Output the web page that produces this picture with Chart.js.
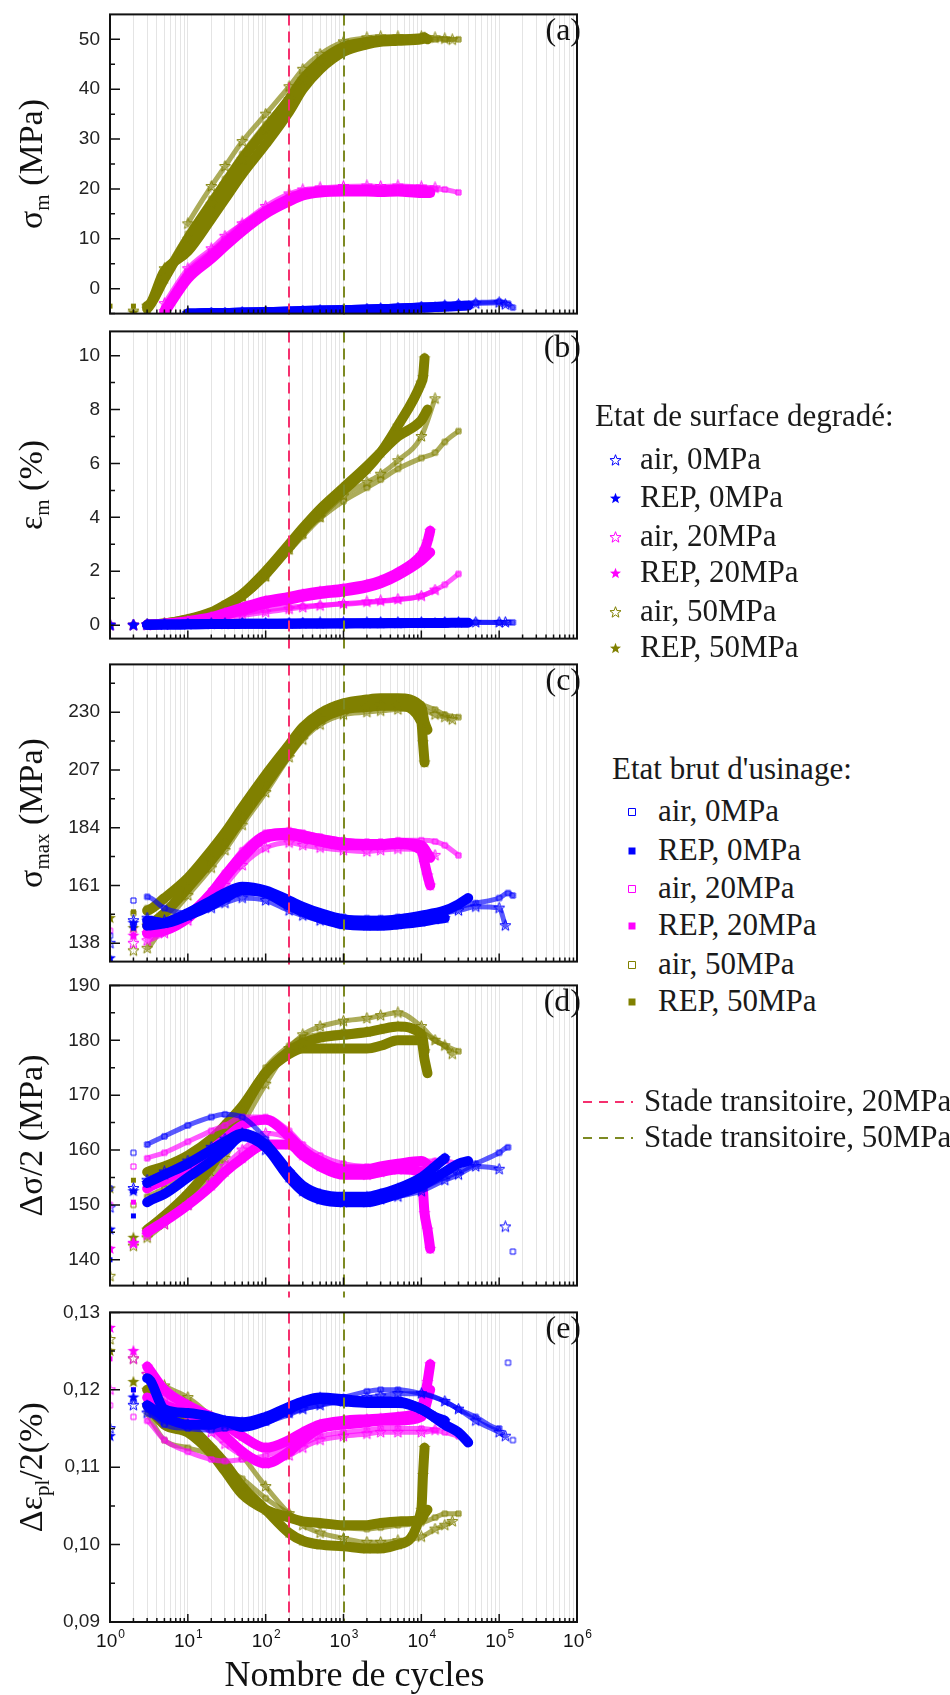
<!DOCTYPE html>
<html>
<head>
<meta charset="utf-8">
<script src="https://cdn.jsdelivr.net/npm/chart.js@4.4.1/dist/chart.umd.min.js"></script>
<style>
  html, body { margin: 0; padding: 0; background: #fff; }
  #page { position: relative; width: 950px; height: 1695px; overflow: hidden; }
  #page canvas.panel { position: absolute; left: 0; }
  .leg { position: absolute; font-family: 'Liberation Serif', 'Times New Roman', serif; font-size: 31px; line-height: 1; color: #1a1a1a; white-space: nowrap; }
  .mk { position: absolute; }
</style>
</head>
<body>
<div id="page"></div>
<script>
// cycles recorded for each specimen (s = degraded surface, b = as-machined)
const cycSAir0  = [1,2,3,5,10,20,30,50,100,200,300,500,1000,2000,3000,5000,10000,20000,30000,50000,100000,120000]
const cycSRep0  = [1,2,3,5,10,20,30,50,100,200,300,500,1000,2000,3000,5000,10000,15000,20000]
const cycSAir20 = [1,2,3,5,10,20,30,50,100,200,300,500,1000,2000,3000,5000,10000,15000]
const cycSRep20 = [1,2,3,5,10,20,30,50,100,200,300,500,1000,2000,3000,5000,10000,11000,12000,13000]
const cycSAir50 = [1,2,3,5,10,20,30,50,100,200,300,500,1000,2000,3000,5000,10000,15000,20000,25000]
const cycSRep50 = [1,2,3,5,10,20,30,50,100,200,300,500,1000,2000,3000,5000,10000,10500,11000]
const cycBAir0  = [1,2,3,5,10,20,30,50,100,200,300,500,1000,2000,3000,5000,10000,20000,30000,50000,100000,130000,150000]
const cycBRep0  = [1,2,3,5,10,20,30,50,100,200,300,500,1000,2000,3000,5000,10000,20000,30000,40000]
const cycBAir20 = [1,2,3,5,10,20,30,50,100,200,300,500,1000,2000,3000,5000,10000,15000,20000,30000]
const cycBRep20 = [1,2,3,5,10,20,30,50,100,200,300,500,1000,2000,3000,5000,10000,13000]
const cycBAir50 = [1,2,3,5,10,20,30,50,100,200,300,500,1000,2000,3000,5000,10000,15000,20000,30000]
const cycBRep50 = [1,2,3,5,10,20,30,50,100,200,300,500,1000,2000,3000,5000,10000,11000,12000]

// (a) mean stress (MPa)
const aSAir0  = [null,null,null,null,-5,-4.9,-4.9,-4.8,-4.7,-4.6,-4.5,-4.4,-4.3,-4.1,-4,-3.9,-3.7,-3.4,-3.2,-3,-2.8,-3.2]
const aSRep0  = [null,null,null,null,-5,-4.9,-4.9,-4.8,-4.7,-4.6,-4.5,-4.4,-4.3,-4.2,-4.1,-4,-3.8,-3.7,-3.6]
const aSAir20 = [null,null,null,-3,4,8,10.5,13,16.5,19,19.8,20.2,20.5,20.6,20.5,20.6,20.4,20.2]
const aSRep20 = [null,null,null,-4.5,2.5,6.5,9,12,15.5,18,19,19.5,19.8,19.8,19.7,19.9,19.8,19.6,19.5,19.4]
const aSAir50 = [null,-4.5,-3.5,4,13,20.5,24.5,29.5,35,40.5,44,47,49.5,50.3,50.5,50.5,50.5,50.3,50.1,49.9]
const aSRep50 = [null,-4.8,-4,2,10,17,21,26,32,38,42,45.5,48.5,49.5,49.8,50,50.2,50.3,50.4]
const aBAir0  = [null,null,null,null,-5,-4.9,-4.8,-4.8,-4.7,-4.6,-4.5,-4.4,-4.3,-4.1,-4,-3.8,-3.6,-3.3,-3,-2.8,-2.6,-3,-3.8]
const aBRep0  = [null,null,null,null,-5,-4.9,-4.9,-4.8,-4.7,-4.6,-4.5,-4.4,-4.3,-4.2,-4.1,-4,-3.8,-3.6,-3.5,-3.4]
const aBAir20 = [null,null,null,-4,3.5,7.5,10,13,16,18.5,19.5,20,20.2,20.3,20.1,20.2,20,20,19.9,19.3]
const aBRep20 = [null,null,null,-4.8,2,6,8.5,11.5,15,17.5,18.7,19.3,19.5,19.5,19.4,19.5,19.2,19.2]
const aBAir50 = [null,null,-4.5,3,11,18,22,27,33,38.5,42,45.5,48.5,49.5,49.8,50,50.1,50,50,50]
const aBRep50 = [-3.5,-3.5,-3.5,3.5,7.5,14,18,23,29,35.5,40,44,47.5,49,49.5,49.7,50,50.2,50]

// (b) mean strain (%)
const bSAir0  = [0,0,0.02,0.03,0.04,0.05,0.05,0.06,0.06,0.07,0.07,0.08,0.08,0.08,0.09,0.09,0.09,0.1,0.1,0.1,0.1,0.1]
const bSRep0  = [0,0,0.01,0.02,0.03,0.04,0.04,0.05,0.05,0.05,0.06,0.06,0.06,0.07,0.07,0.07,0.08,0.08,0.08]
const bSAir20 = [0,0,0,0.02,0.08,0.18,0.26,0.36,0.48,0.6,0.66,0.72,0.8,0.86,0.9,0.96,1.08,1.3]
const bSRep20 = [0,0,0.02,0.05,0.15,0.3,0.45,0.65,0.9,1.05,1.15,1.25,1.35,1.5,1.65,1.95,2.6,2.8,3.1,3.5]
const bSAir50 = [0,0,0.02,0.05,0.18,0.42,0.65,1.05,1.8,2.8,3.4,4.0,4.8,5.3,5.6,6.1,7.0,8.4,null,null]
const bSRep50 = [0,0,0.02,0.06,0.2,0.45,0.7,1.1,1.9,2.9,3.5,4.2,5.0,5.8,6.4,7.4,9.0,9.2,9.9]
const bBAir0  = [null,0,0.02,0.03,0.05,0.06,0.06,0.07,0.08,0.08,0.09,0.09,0.1,0.1,0.1,0.11,0.11,0.11,0.11,0.11,0.1,0.1,0.1]
const bBRep0  = [null,0,0.01,0.02,0.03,0.04,0.04,0.05,0.05,0.06,0.06,0.06,0.07,0.07,0.07,0.08,0.08,0.08,0.09,0.09]
const bBAir20 = [0,0,0,0.02,0.1,0.2,0.3,0.42,0.56,0.66,0.7,0.74,0.78,0.84,0.88,0.94,1.08,1.3,1.5,1.9]
const bBRep20 = [0,0,0.01,0.05,0.12,0.25,0.38,0.55,0.8,0.95,1.05,1.15,1.25,1.4,1.55,1.85,2.4,2.7]
const bBAir50 = [0,0,0.02,0.05,0.17,0.4,0.62,1.0,1.75,2.75,3.3,3.95,4.6,5.1,5.4,5.8,6.2,6.4,6.8,7.2]
const bBRep50 = [0,0,0.02,0.06,0.22,0.48,0.75,1.15,2.0,3.0,3.6,4.3,5.1,5.9,6.4,7.0,7.6,7.8,8.0]

// (c) maximum stress (MPa)
const cSAir0  = [138,147,148,147,149,152,154,156,155,151,149,147,146,146,146.5,147,148,150,151,152.5,152,145]
const cSRep0  = [132,146,147,146,149,153,156,159,158,153,150.5,148,145.5,145,145,145.5,146.5,147.5,148]
const cSAir20 = [null,138,139,142,147,155,161,169,176,178,177,176,175,174.5,175,175.5,175,173]
const cSRep20 = [null,141,142,143,148,157,164,172,180,181,180,178.5,177,177,177,177.5,175,170,165,161]
const cSAir50 = [null,135,136,146,157,168,175,185,198,212,219,225,229,230,230.5,231,231,229,228,227]
const cSRep50 = [148,144,145,150,160,171,178,188,201,214,221,227,231,232,232.5,232.5,226,218,210]
const cBAir0  = [141,155,156.5,152,150,153,156,158.5,157,154,152,150,148.5,148,148,148.5,149.5,151,152.5,154,156,158,157]
const cBRep0  = [null,144,145,146,150,155,158,160.5,159,155,152.5,150,147.5,147,147,147.5,149,151,153.5,156]
const cBAir20 = [143,143,143,144,150,159,166,175,182,183,182,180.5,179,178.5,178.5,179,179,178.5,177,173]
const cBRep20 = [null,141,142,144,149,158,165,173,181,182,181,179.5,178,177.5,177.5,178,177,172]
const cBAir50 = [null,150,152,155,162,173,180,190,203,216,222,228,232,233.5,234,234,233,231,229,228]
const cBRep50 = [null,150.5,151,156,164,175,182,192,205,217,224,229.5,233.5,235,235.5,235.5,232,226,223]

// (d) stress amplitude (MPa)
const dSAir0  = [149.5,153,154.5,156,158,160.5,162,163,160,155,152.5,151,150.5,150.5,151,151.5,152.5,154.5,155.5,157,156.5,146]
const dSRep0  = [145.5,152.5,154,155.5,157.5,160,161.5,163,161,156,153.5,152,151.5,151.5,152,153,155,157,158.5]
const dSAir20 = [null,143,144.5,146.5,150,154,157,160,163,162,159.5,157.5,156,155.5,156,156.5,157,157.5]
const dSRep20 = [142,143,145,147,150,153.5,156,158.5,161,161,159,157,155.5,155.5,156,156.5,156,148.5,145.5,142]
const dSAir50 = [137,142.5,144,146.5,150,155,158.5,164.5,172,178.5,181,182.5,183.5,184,184.5,185,182.5,180,179,177.5]
const dSRep50 = [153,144,145.5,148,152,157,161,167,174,178,179.5,180.5,181,181.5,182,182.5,181,180,178]
const dBAir0  = [153,159.5,161,162.5,164.5,166,166.5,166,162,156,153.5,152,151.5,151,151.5,152,153,155,156,157.5,159.5,160.5,141.5]
const dBRep0  = [140,148,150.5,152,155,158,160,162.5,160.5,155,152.5,151,150.5,150.5,151,152,153.5,156,157.5,158]
const dBAir20 = [150,157,158.5,159.5,161.5,163.5,164.5,166,166,163.5,161,159,157.5,157,157,157.5,158,158,158,157.5]
const dBRep20 = [142,150.5,153,154.5,157,160,162,164.5,165.5,162.5,160,158,156.5,156.5,157,157.5,158,157]
const dBAir50 = [null,150,151.5,153,156,160,163,168,175,179,180.5,181,181.5,181.5,182,182.5,181.5,180,179,178]
const dBRep50 = [null,154.5,156,157,159,162,164.5,168,174,177.5,178.5,178.5,178.5,178.5,179,180,180,176.5,174]

// (e) plastic strain amplitude (%)
const eSAir0  = [0.115,0.118,0.117,0.116,0.1155,0.1155,0.1155,0.1155,0.116,0.117,0.1175,0.118,0.1185,0.119,0.1192,0.1195,0.1195,0.1185,0.1175,0.116,0.1145,0.114]
const eSRep0  = [0.114,0.119,0.118,0.1165,0.1155,0.1155,0.116,0.1158,0.1165,0.1178,0.1185,0.119,0.1188,0.1185,0.1185,0.1185,0.1175,0.1165,0.116]
const eSAir20 = [0.12,0.124,0.122,0.119,0.1165,0.1145,0.113,0.1115,0.1105,0.1115,0.1125,0.1135,0.114,0.1143,0.1145,0.1145,0.1145,0.1148]
const eSRep20 = [0.128,0.125,0.123,0.12,0.118,0.1165,0.1155,0.114,0.1125,0.1135,0.1145,0.1155,0.116,0.1162,0.1163,0.1165,0.1175,0.119,0.121,0.1233]
const eSAir50 = [0.1265,0.124,0.122,0.1205,0.119,0.1165,0.1145,0.1115,0.1075,0.104,0.1025,0.1015,0.1008,0.1003,0.1003,0.1005,0.101,0.102,0.1025,0.103]
const eSRep50 = [0.125,0.121,0.12,0.118,0.1155,0.1125,0.1105,0.1075,0.1045,0.1015,0.1005,0.1,0.0998,0.0995,0.0995,0.1,0.1045,0.109,0.1125]
const eBAir0  = [null,0.1185,0.1175,0.1155,0.115,0.1148,0.115,0.1152,0.1158,0.1168,0.1175,0.118,0.119,0.1198,0.12,0.12,0.1195,0.1185,0.1175,0.1165,0.115,0.1235,0.1135]
const eBRep0  = [null,0.12,0.1215,0.1175,0.117,0.1165,0.116,0.1152,0.116,0.1175,0.1183,0.1188,0.1185,0.1183,0.1183,0.1183,0.1175,0.1155,0.1145,0.1132]
const eBAir20 = [0.118,0.1165,0.116,0.1135,0.112,0.111,0.1108,0.111,0.1115,0.1125,0.113,0.114,0.1145,0.1148,0.115,0.115,0.115,0.1148,0.1145,0.114]
const eBRep20 = [0.124,0.12,0.119,0.118,0.117,0.1155,0.114,0.112,0.1105,0.112,0.1135,0.115,0.1155,0.1158,0.116,0.116,0.1165,0.12]
const eBAir50 = [null,null,0.117,0.1135,0.1125,0.1115,0.11,0.1085,0.106,0.104,0.103,0.1025,0.1022,0.102,0.1022,0.1025,0.1028,0.1035,0.104,0.104]
const eBRep50 = [null,null,0.118,0.1155,0.1145,0.1118,0.1095,0.1065,0.1045,0.1035,0.103,0.1028,0.1025,0.1025,0.1028,0.103,0.1032,0.104,0.1045]

// axis ticks
const xDecades = [1, 10, 100, 1000, 10000, 100000, 1000000]
const xMinorSteps = [2, 3, 4, 5, 6, 7, 8, 9]
const yMajorA = [0, 10, 20, 30, 40, 50]
const yMinorA = [-5, 5, 15, 25, 35, 45]
const yMajorB = [0, 2, 4, 6, 8, 10]
const yMinorB = [1, 3, 5, 7, 9]
const yMajorC = [138, 161, 184, 207, 230]
const yMinorC = [149.5, 172.5, 195.5, 218.5, 241.5]
const yMajorD = [140, 150, 160, 170, 180, 190]
const yMinorD = [145, 155, 165, 175, 185]
const yMajorE = [0.09, 0.10, 0.11, 0.12, 0.13]
const yMinorE = [0.095, 0.105, 0.115, 0.125]

// transition stages
const transitionCycles = [200, 1000]
const transitionLabels = ['Stade transitoire, 20MPa', 'Stade transitoire, 50MPa']
const legendLabels = ['air, 0MPa', 'REP, 0MPa', 'air, 20MPa', 'REP, 20MPa', 'air, 50MPa', 'REP, 50MPa']
const xTitle = 'Nombre de cycles'

const BLUE = '#0000ff', MAGENTA = '#ff00ff', OLIVE = '#808000'
const transitionColors = ['#f5306e', '#7d8a22']

const xGridValues = []
xDecades.slice(0, -1).forEach(d => { xGridValues.push(d); xMinorSteps.forEach(m => xGridValues.push(d * m)) })
xGridValues.push(1000000)

function rgba(hex, a) {
  const n = parseInt(hex.slice(1), 16)
  return `rgba(${(n >> 16) & 255},${(n >> 8) & 255},${n & 255},${a})`
}

function markerCanvas(shape, color, filled, size) {
  const c = document.createElement('canvas')
  c.width = c.height = size
  const g = c.getContext('2d')
  const m = size / 2
  g.beginPath()
  if (shape === 'star') {
    const R = m - 0.7, r = R * 0.42
    for (let k = 0; k < 10; k++) {
      const ang = -Math.PI / 2 + k * Math.PI / 5
      const rad = k % 2 ? r : R
      g.lineTo(m + rad * Math.cos(ang), m + rad * Math.sin(ang))
    }
    g.closePath()
  } else {
    const h = Math.floor(size / 2) - 1
    g.rect(m - h + 0.5, m - h + 0.5, 2 * h - 1, 2 * h - 1)
  }
  if (filled) { g.fillStyle = color; g.fill() } else { g.lineWidth = 1; g.strokeStyle = color; g.stroke() }
  return c
}

// draw order: first entry ends up on top
const seriesDefs = [
  { key: 'sRep0',  cycles: cycSRep0,  color: BLUE,    shape: 'star',   filled: true },
  { key: 'bRep0',  cycles: cycBRep0,  color: BLUE,    shape: 'square', filled: true },
  { key: 'sAir0',  cycles: cycSAir0,  color: BLUE,    shape: 'star',   filled: false },
  { key: 'bAir0',  cycles: cycBAir0,  color: BLUE,    shape: 'square', filled: false },
  { key: 'sRep20', cycles: cycSRep20, color: MAGENTA, shape: 'star',   filled: true },
  { key: 'bRep20', cycles: cycBRep20, color: MAGENTA, shape: 'square', filled: true },
  { key: 'sAir20', cycles: cycSAir20, color: MAGENTA, shape: 'star',   filled: false },
  { key: 'bAir20', cycles: cycBAir20, color: MAGENTA, shape: 'square', filled: false },
  { key: 'sRep50', cycles: cycSRep50, color: OLIVE,   shape: 'star',   filled: true },
  { key: 'bRep50', cycles: cycBRep50, color: OLIVE,   shape: 'square', filled: true },
  { key: 'sAir50', cycles: cycSAir50, color: OLIVE,   shape: 'star',   filled: false },
  { key: 'bAir50', cycles: cycBAir50, color: OLIVE,   shape: 'square', filled: false },
]

const panels = [
  { tag: '(a)', top: 7, bottom: 321, gapBelow: 3, min: -5, max: 55, major: yMajorA, minor: yMinorA,
    title: [['σ'], ['m', true], [' (MPa)']],
    values: { sAir0: aSAir0, sRep0: aSRep0, sAir20: aSAir20, sRep20: aSRep20, sAir50: aSAir50, sRep50: aSRep50,
              bAir0: aBAir0, bRep0: aBRep0, bAir20: aBAir20, bRep20: aBRep20, bAir50: aBAir50, bRep50: aBRep50 } },
  { tag: '(b)', top: 324, bottom: 646, gapBelow: 11, min: -0.5, max: 10.9, major: yMajorB, minor: yMinorB,
    title: [['ε'], ['m', true], [' (%)']],
    values: { sAir0: bSAir0, sRep0: bSRep0, sAir20: bSAir20, sRep20: bSRep20, sAir50: bSAir50, sRep50: bSRep50,
              bAir0: bBAir0, bRep0: bBRep0, bAir20: bBAir20, bRep20: bBRep20, bAir50: bBAir50, bRep50: bBRep50 } },
  { tag: '(c)', top: 657, bottom: 969, gapBelow: 9, min: 130.7, max: 249, major: yMajorC, minor: yMinorC,
    title: [['σ'], ['max', true], [' (MPa)']],
    values: { sAir0: cSAir0, sRep0: cSRep0, sAir20: cSAir20, sRep20: cSRep20, sAir50: cSAir50, sRep50: cSRep50,
              bAir0: cBAir0, bRep0: cBRep0, bAir20: cBAir20, bRep20: cBRep20, bAir50: cBAir50, bRep50: cBRep50 } },
  { tag: '(d)', top: 978, bottom: 1293, gapBelow: 12, min: 135.3, max: 190, major: yMajorD, minor: yMinorD,
    title: [['Δσ/2 (MPa)']],
    values: { sAir0: dSAir0, sRep0: dSRep0, sAir20: dSAir20, sRep20: dSRep20, sAir50: dSAir50, sRep50: dSRep50,
              bAir0: dBAir0, bRep0: dBRep0, bAir20: dBAir20, bRep20: dBRep20, bAir50: dBAir50, bRep50: dBRep50 } },
  { tag: '(e)', top: 1305, bottom: 1622, gapBelow: 0, min: 0.09, max: 0.13, major: yMajorE, minor: yMinorE,
    title: [['Δε'], ['pl', true], ['/2(%)']], fmt: v => v.toFixed(2).replace('.', ','),
    values: { sAir0: eSAir0, sRep0: eSRep0, sAir20: eSAir20, sRep20: eSRep20, sAir50: eSAir50, sRep50: eSRep50,
              bAir0: eBAir0, bRep0: eBRep0, bAir20: eBAir20, bRep20: eBRep20, bAir50: eBAir50, bRep50: eBRep50 } },
]

const LEFT = 110, RIGHT = 577, CANVAS_W = 600, PAD = 14, PAGE_H = 1695
const page = document.getElementById('page')

function drawRotatedTitle(ctx, parts, bx, cy, size) {
  const big = `${size}px "Liberation Serif"`, small = `${Math.round(size * 0.62)}px "Liberation Serif"`
  ctx.save()
  ctx.translate(bx, cy)
  ctx.rotate(-Math.PI / 2)
  ctx.textAlign = 'left'
  ctx.textBaseline = 'alphabetic'
  ctx.fillStyle = '#111'
  const widths = parts.map(([t, sub]) => { ctx.font = sub ? small : big; return ctx.measureText(t).width })
  let cx = -widths.reduce((a, b) => a + b, 0) / 2
  parts.forEach(([t, sub], i) => {
    ctx.font = sub ? small : big
    ctx.fillText(t, cx, sub ? size * 0.22 : 0)
    cx += widths[i]
  })
  ctx.restore()
}

function panelDeco(p, isLast) {
  return {
    id: 'panelDeco',
    afterDatasetsDraw(chart) {
      const { ctx, chartArea: ca, scales: { x } } = chart
      ctx.save()
      ctx.lineWidth = 2
      ctx.setLineDash([11, 6])
      transitionCycles.forEach((c, i) => {
        const px = Math.round(x.getPixelForValue(c))
        ctx.strokeStyle = transitionColors[i]
        ctx.beginPath()
        ctx.moveTo(px, ca.top)
        ctx.lineTo(px, ca.bottom + p.gapBelow)
        ctx.stroke()
      })
      ctx.restore()
    },
    afterDraw(chart) {
      const { ctx, chartArea: ca, scales: { x, y } } = chart
      ctx.save()
      ctx.strokeStyle = '#111'
      ctx.lineWidth = 1.5
      ctx.beginPath()
      p.major.forEach(v => { const py = y.getPixelForValue(v); ctx.moveTo(ca.left, py); ctx.lineTo(ca.left + 10, py) })
      p.minor.forEach(v => { const py = y.getPixelForValue(v); ctx.moveTo(ca.left, py); ctx.lineTo(ca.left + 5, py) })
      xGridValues.forEach(v => {
        const px = x.getPixelForValue(v)
        const len = xDecades.includes(v) ? 8 : 4
        ctx.moveTo(px, ca.bottom)
        ctx.lineTo(px, ca.bottom - len)
      })
      ctx.stroke()
      ctx.lineWidth = 2
      ctx.strokeRect(ca.left, ca.top, ca.right - ca.left, ca.bottom - ca.top)

      ctx.fillStyle = '#111'
      ctx.font = '32px "Liberation Serif"'
      ctx.textAlign = 'right'
      ctx.textBaseline = 'top'
      ctx.fillText(p.tag, ca.right + 4, ca.top + 1)

      drawRotatedTitle(ctx, p.title, 42, (ca.top + ca.bottom) / 2, 34)

      if (isLast) {
        ctx.textAlign = 'left'
        ctx.textBaseline = 'alphabetic'
        xDecades.forEach((d, k) => {
          const px = x.getPixelForValue(d)
          ctx.font = '19px "Liberation Sans"'
          const w1 = ctx.measureText('10').width
          ctx.font = '12px "Liberation Sans"'
          const w2 = ctx.measureText(String(k)).width
          const sx = px - (w1 + w2) / 2
          ctx.font = '19px "Liberation Sans"'
          ctx.fillText('10', sx, ca.bottom + 25)
          ctx.font = '12px "Liberation Sans"'
          ctx.fillText(String(k), sx + w1 + 1, ca.bottom + 16)
        })
        // axis title, centred a little right of the plot centre as in the source figure
        ctx.font = '36px "Liberation Serif"'
        ctx.textAlign = 'center'
        ctx.textBaseline = 'middle'
        ctx.fillText(xTitle, (ca.left + ca.right) / 2 + 11, ca.bottom + 55)
      }
      ctx.restore()
    }
  }
}

panels.forEach((p, idx) => {
  const isLast = idx === panels.length - 1
  const top = p.top - PAD
  const bottom = isLast ? PAGE_H : p.bottom + PAD
  const cv = document.createElement('canvas')
  cv.className = 'panel'
  cv.width = CANVAS_W
  cv.height = bottom - top
  cv.style.top = top + 'px'
  cv.style.width = CANVAS_W + 'px'
  cv.style.height = (bottom - top) + 'px'
  page.appendChild(cv)

  const datasets = seriesDefs.map(s => {
    const vals = p.values[s.key]
    const lineColor = s.filled ? s.color : rgba(s.color, 0.65)
    return {
      label: s.key,
      data: s.cycles.map((c, i) => ({ x: c, y: vals[i] === undefined ? null : vals[i] })),
      showLine: true,
      borderColor: lineColor,
      borderWidth: s.filled ? 10 : 5,
      borderCapStyle: 'round',
      borderJoinStyle: 'round',
      cubicInterpolationMode: 'monotone',
      pointStyle: markerCanvas(s.shape, s.color, s.filled, s.shape === 'star' ? (s.filled ? 14 : 13) : 9),
      pointRadius: 5,
      clip: 0,
      segment: {
        borderColor: ctx => {
          const dx = ctx.p1.x - ctx.p0.x, dy = ctx.p1.y - ctx.p0.y
          return (ctx.p1.parsed.x <= 3 || Math.hypot(dx, dy) > 50) ? 'transparent' : lineColor
        }
      }
    }
  })

  new Chart(cv, {
    type: 'scatter',
    data: { datasets },
    options: {
      responsive: false,
      animation: false,
      events: [],
      layout: { padding: { top: PAD, right: CANVAS_W - RIGHT, bottom: isLast ? 0 : PAD, left: 0 } },
      plugins: { legend: { display: false }, tooltip: { enabled: false } },
      scales: {
        x: {
          type: 'logarithmic', min: 1, max: 1000000, position: 'bottom',
          afterBuildTicks: s => { s.ticks = xGridValues.map(v => ({ value: v, major: xDecades.includes(v) })) },
          afterFit: s => { s.height = isLast ? PAGE_H - p.bottom : 0 },
          grid: { color: '#e4e4e4', lineWidth: 1, drawTicks: false },
          border: { display: false },
          ticks: { display: false },
          title: { display: false }
        },
        y: {
          type: 'linear', min: p.min, max: p.max, position: 'left',
          afterBuildTicks: s => { s.ticks = p.major.map(v => ({ value: v })) },
          afterFit: s => { s.width = LEFT },
          grid: { display: false, drawTicks: false },
          border: { display: false },
          ticks: { padding: 10, color: '#222', autoSkip: false, font: { family: 'Liberation Sans', size: 19 },
                   callback: p.fmt || (v => String(v)) }
        }
      }
    },
    plugins: [panelDeco(p, isLast)]
  })
})

// legend (HTML)
function addText(text, x, cy) {
  const d = document.createElement('div')
  d.className = 'leg'
  d.textContent = text
  d.style.left = x + 'px'
  d.style.top = (cy - 17) + 'px'
  page.appendChild(d)
}
function addMarker(el, cx, cy) {
  el.className = 'mk'
  el.style.left = (cx - el.width / 2) + 'px'
  el.style.top = (cy - el.height / 2) + 'px'
  page.appendChild(el)
}

const legendGroups = [
  { title: 'Etat de surface degradé:', titleX: 595, titleY: 417, markerX: 615, textX: 640,
    rows: [460, 498, 537, 573, 612, 648], shape: 'star' },
  { title: "Etat brut d'usinage:", titleX: 612, titleY: 770, markerX: 632, textX: 658,
    rows: [812, 851, 889, 926, 965, 1002], shape: 'square' },
]
const legendColors = [BLUE, BLUE, MAGENTA, MAGENTA, OLIVE, OLIVE]
const legendFilled = [false, true, false, true, false, true]

legendGroups.forEach(g => {
  addText(g.title, g.titleX, g.titleY)
  g.rows.forEach((ry, i) => {
    addMarker(markerCanvas(g.shape, legendColors[i], legendFilled[i], g.shape === 'star' ? 13 : 10), g.markerX, ry)
    addText(legendLabels[i], g.textX, ry)
  })
})

const dashRows = [1102, 1138]
transitionLabels.forEach((t, i) => {
  const c = document.createElement('canvas')
  c.width = 50; c.height = 4
  const g = c.getContext('2d')
  g.strokeStyle = transitionColors[i]
  g.lineWidth = 2
  g.setLineDash([9, 7])
  g.beginPath(); g.moveTo(0, 2); g.lineTo(50, 2); g.stroke()
  addMarker(c, 608, dashRows[i])
  addText(t, 644, dashRows[i])
})
</script>
</body>
</html>
